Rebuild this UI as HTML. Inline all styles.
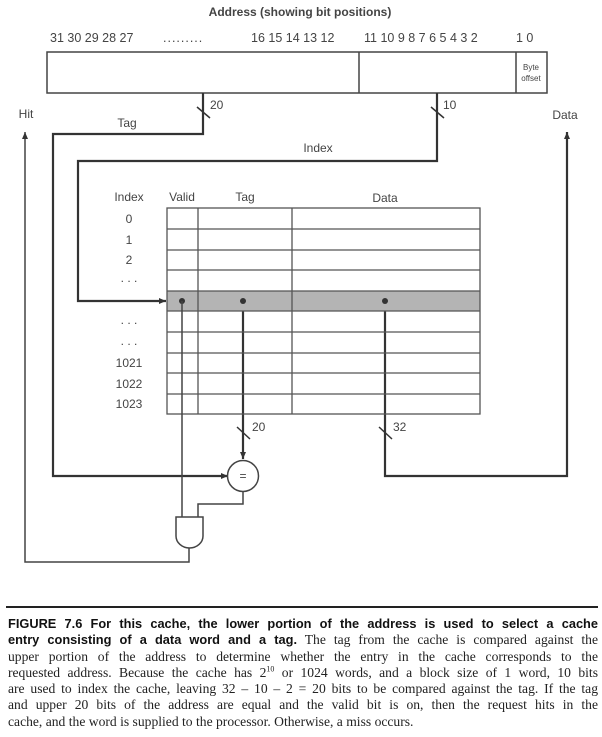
<!DOCTYPE html>
<html><head><meta charset="utf-8"><style>
html,body{margin:0;padding:0;background:#fff;width:602px;height:737px;overflow:hidden}
svg{position:absolute;left:0;top:0}
text{font-family:"Liberation Sans",sans-serif;fill:#444}
#cap{position:absolute;left:8px;top:616px;width:590px;font-family:"Liberation Serif",serif;font-size:13.6px;line-height:16.3px;color:#222}
#cap div{text-align:justify;text-align-last:justify;white-space:nowrap;height:16.3px}
#cap div.last{text-align-last:left}
#cap b{font-family:"Liberation Sans",sans-serif;font-size:12.8px;font-weight:bold;color:#111}
#rule{position:absolute;left:6px;top:606px;width:592px;height:2px;background:#222}
</style></head><body>
<svg width="602" height="737" viewBox="0 0 602 737">
<defs><marker id="a" markerWidth="8" markerHeight="8" refX="7" refY="4" orient="auto" markerUnits="userSpaceOnUse"><path d="M0,1 L7,4 L0,7z" fill="#333"/></marker></defs>
<text x="300" y="16" text-anchor="middle" font-weight="bold" font-size="12" fill="#333">Address (showing bit positions)</text>
<text x="50" y="42" font-size="12.5">31 30 29 28 27</text>
<text x="163" y="42" font-size="12.5" letter-spacing="1">.........</text>
<text x="251" y="42" font-size="12.5">16 15 14 13 12</text>
<text x="364" y="42" font-size="12.5">11 10 9 8 7 6 5 4 3 2</text>
<text x="516" y="42" font-size="12.5">1 0</text>
<g stroke="#444" fill="none" stroke-width="1.5">
<rect x="47" y="52" width="500" height="41"/>
<line x1="359" y1="52" x2="359" y2="93"/>
<line x1="516" y1="52" x2="516" y2="93"/>
</g>
<text x="531" y="70" font-size="8" text-anchor="middle">Byte</text>
<text x="531" y="81" font-size="8" text-anchor="middle">offset</text>
<g stroke="#333" fill="none" stroke-width="2.2">
<polyline points="203,93 203,134 53,134 53,476 228,476" marker-end="url(#a)"/>
<polyline points="437,93 437,161 78,161 78,301 166,301" marker-end="url(#a)"/>
<polyline points="385,301 385,476 567,476 567,132" marker-end="url(#a)"/>
<polyline points="243,301 243,459" marker-end="url(#a)"/>
</g>
<g stroke="#333" stroke-width="1.5" fill="none">
<line x1="197" y1="107" x2="210" y2="118"/>
<line x1="431" y1="107" x2="444" y2="118"/>
<line x1="237" y1="427" x2="250" y2="439"/>
<line x1="379" y1="427" x2="392" y2="439"/>
</g>
<text x="210" y="109" font-size="12">20</text>
<text x="443" y="109" font-size="12">10</text>
<text x="252" y="431" font-size="12">20</text>
<text x="393" y="431" font-size="12">32</text>
<text x="26" y="118" font-size="12" text-anchor="middle">Hit</text>
<text x="565" y="119" font-size="12" text-anchor="middle">Data</text>
<text x="127" y="127" font-size="12" text-anchor="middle">Tag</text>
<text x="318" y="152" font-size="12" text-anchor="middle">Index</text>
<text x="129" y="201" font-size="12" text-anchor="middle">Index</text>
<text x="182" y="201" font-size="12" text-anchor="middle">Valid</text>
<text x="245" y="201" font-size="12" text-anchor="middle">Tag</text>
<text x="385" y="202" font-size="12" text-anchor="middle">Data</text>
<rect x="167" y="291" width="313" height="20" fill="#b4b4b4"/>
<g stroke="#555" stroke-width="1.3" fill="none">
<rect x="167" y="208" width="313" height="206"/>
<line x1="198" y1="208" x2="198" y2="414"/><line x1="292" y1="208" x2="292" y2="414"/>
<line x1="167" y1="229" x2="480" y2="229"/><line x1="167" y1="250" x2="480" y2="250"/>
<line x1="167" y1="270" x2="480" y2="270"/><line x1="167" y1="291" x2="480" y2="291"/>
<line x1="167" y1="311" x2="480" y2="311"/><line x1="167" y1="332" x2="480" y2="332"/>
<line x1="167" y1="353" x2="480" y2="353"/><line x1="167" y1="373" x2="480" y2="373"/>
<line x1="167" y1="394" x2="480" y2="394"/>
</g>
<g font-size="12" text-anchor="middle">
<text x="129" y="223">0</text><text x="129" y="244">1</text><text x="129" y="264">2</text>
<text x="129" y="282">. . .</text><text x="129" y="324">. . .</text><text x="129" y="345">. . .</text>
<text x="129" y="367">1021</text><text x="129" y="388">1022</text><text x="129" y="408">1023</text>
</g>
<g fill="#333"><circle cx="182" cy="301" r="3"/><circle cx="243" cy="301" r="3"/><circle cx="385" cy="301" r="3"/></g>
<g stroke="#444" stroke-width="1.5" fill="none">
<line x1="182" y1="301" x2="182" y2="517"/>
<polyline points="243,492 243,504 198,504 198,517"/>
<polyline points="189,548 189,562 25,562 25,132" marker-end="url(#a)"/>
<circle cx="243" cy="476" r="15.5" fill="#fff"/>
<path d="M176,517 L203,517 L203,536 A13.5,12 0 0 1 176,536 Z" fill="#fff"/>
</g>
<text x="243" y="480" font-size="12" text-anchor="middle">=</text>
</svg>
<div id="rule"></div>
<div id="cap">
<div><b>FIGURE 7.6 For this cache, the lower portion of the address is used to select a cache</b></div>
<div><b>entry consisting of a data word and a tag.</b> The tag from the cache is compared against the</div>
<div>upper portion of the address to determine whether the entry in the cache corresponds to the</div>
<div>requested address. Because the cache has 2<sup style="font-size:8px;line-height:0">10</sup> or 1024 words, and a block size of 1 word, 10 bits</div>
<div>are used to index the cache, leaving 32 – 10 – 2 = 20 bits to be compared against the tag. If the tag</div>
<div>and upper 20 bits of the address are equal and the valid bit is on, then the request hits in the</div>
<div class="last">cache, and the word is supplied to the processor. Otherwise, a miss occurs.</div>
</div>
</body></html>
